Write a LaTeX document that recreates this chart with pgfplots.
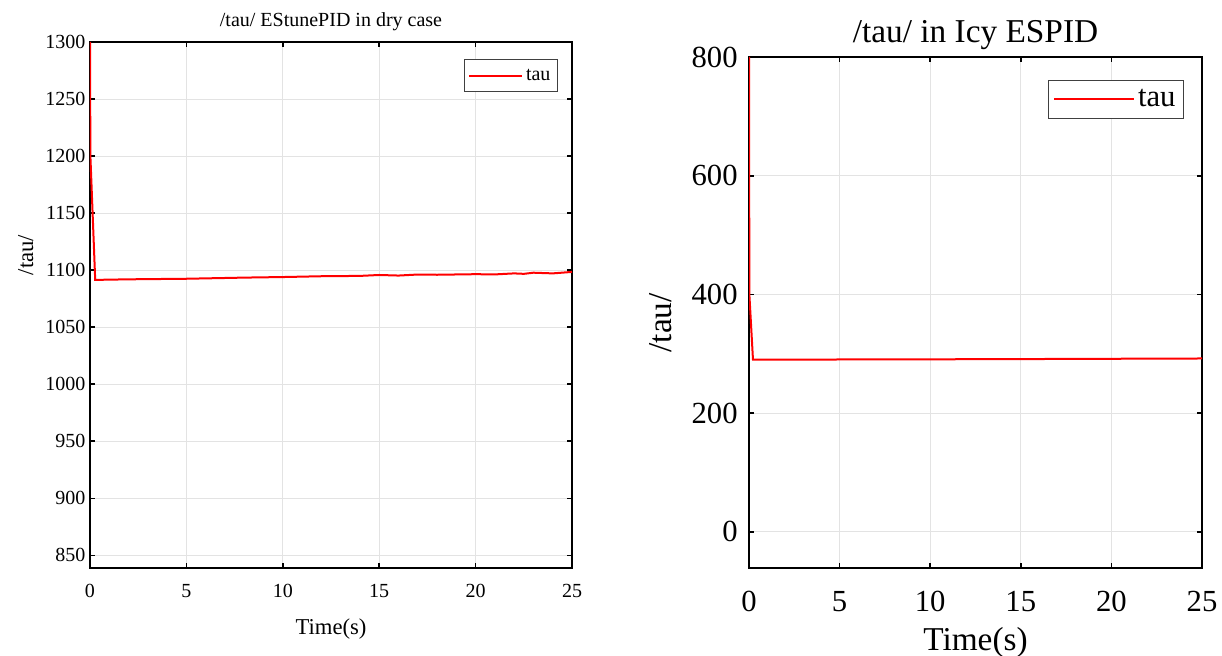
\documentclass[border=0pt]{standalone}
\usepackage{fontspec}
\setmainfont{Liberation Serif}
\usepackage{pgfplots}
\pgfplotsset{compat=1.18}
\begin{document}
\begin{tikzpicture}
\useasboundingbox (0pt,0pt) rectangle (916.5pt,492pt);
\pgfplotsset{
  mystyle/.style={
    scale only axis,
    axis line style={line width=1.3pt},
    tick style={black, line width=1.3pt},
    tick align=inside,
    major tick length=4pt,
    xtick pos=both, ytick pos=both,
    grid=major,
    major grid style={gray!22, line width=0.6pt},
    /pgf/number format/assume math mode=true,
    /pgf/number format/1000 sep={},
    legend cell align=left,
    xmin=0, xmax=25,
    xtick={0,5,10,15,20,25},
  }
}
\begin{axis}[mystyle,
  at={(67.5pt,66pt)}, anchor=south west,
  width=361.5pt, height=394.5pt,
  ymin=839, ymax=1300,
  ytick={850,900,...,1300},
  tick label style={font=\fontsize{15}{16}\selectfont},
  xticklabel style={yshift=-12pt, text height=1.5ex, text depth=0.2ex},
  title={/tau/ EStunePID in dry case},
  title style={font=\fontsize{15}{16}\selectfont, yshift=-1pt},
  xlabel={Time(s)}, ylabel={/tau/},
  label style={font=\fontsize{17}{18}\selectfont},
  xlabel style={yshift=-8pt},
  ylabel style={at={(ticklabel cs:0.595)}, yshift=2pt},
  legend style={at={(0.97,0.967)}, anchor=north east, draw=black!75, line width=0.6pt, font=\fontsize{15}{16}\selectfont, inner xsep=3pt, inner ysep=5pt},
  legend image code/.code={\draw[#1] (0pt,0pt) -- (40pt,0pt);},
]
\addplot[red, line width=1.5pt] coordinates {
(0,1300) (0.02,1200) (0.27,1091.5) (2,1092) (5,1092.5) (8,1093.5) (10,1094) (12,1094.7) (14,1095) (15,1095.8) (16,1095.3) (17,1096.2) (18,1096) (20,1096.5) (21,1096.3) (22,1097.2) (22.5,1096.8) (23,1097.8) (23.5,1097.5) (24,1097.2) (25,1098.5)
};
\addlegendentry{tau}
\end{axis}
\begin{axis}[mystyle,
  at={(561.75pt,66pt)}, anchor=south west,
  width=339.75pt, height=383.25pt,
  ymin=-61, ymax=800,
  ytick={0,200,...,800},
  tick label style={font=\fontsize{23}{24}\selectfont},
  yticklabel style={xshift=-5pt},
  xticklabel style={yshift=-22pt, text height=1.5ex, text depth=0.2ex},
  title={/tau/ in Icy ESPID},
  title style={font=\fontsize{25}{26}\selectfont, yshift=-4pt},
  xlabel={Time(s)}, ylabel={/tau/},
  label style={font=\fontsize{25}{26}\selectfont},
  xlabel style={yshift=-4pt},
  ylabel style={at={(ticklabel cs:0.48)}, yshift=8pt},
  legend style={at={(0.96,0.955)}, anchor=north east, draw=black!75, line width=0.6pt, font=\fontsize{23}{24}\selectfont, inner xsep=4pt, inner ysep=5pt},
  legend image code/.code={\draw[#1] (0pt,0pt) -- (60pt,0pt);},
]
\addplot[red, line width=1.5pt] coordinates {
(0,800) (0.02,400) (0.22,290) (5,290.3) (10,290.6) (15,291) (20,291.5) (25,292)
};
\addlegendentry{tau}
\end{axis}
\end{tikzpicture}
\end{document}
